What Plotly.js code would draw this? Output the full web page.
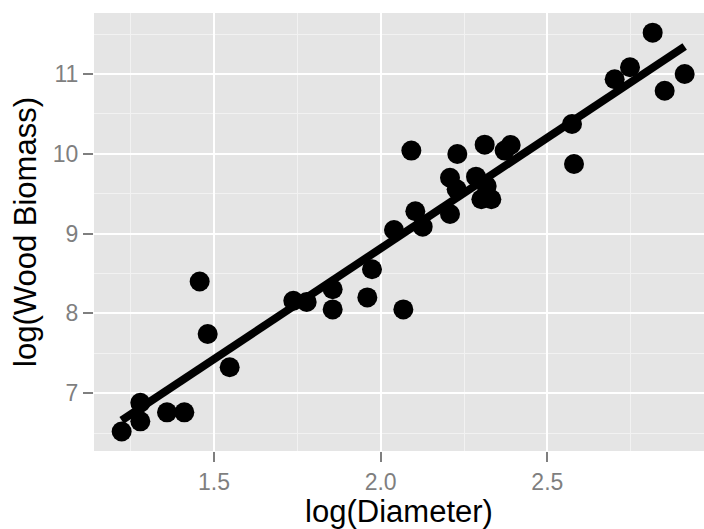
<!DOCTYPE html>
<html>
<head>
<meta charset="utf-8">
<script src="https://cdn.plot.ly/plotly-3.0.1.min.js"></script>
<style>html,body{margin:0;padding:0;background:#fff;}#chart{width:704px;height:529px;}</style>
</head>
<body>
<div id="chart"></div>
<script>
// log(Diameter) values of each tree
const logDiameter = [
  1.223, 1.279, 1.279, 1.359, 1.411, 1.457, 1.481, 1.547,
  1.738, 1.778, 1.856, 1.856, 1.960, 1.974, 2.040, 2.068,
  2.092, 2.104, 2.126, 2.208, 2.208, 2.228, 2.230, 2.286,
  2.302, 2.312, 2.318, 2.332, 2.372, 2.390, 2.574, 2.580,
  2.702, 2.748, 2.816, 2.852, 2.912
];
// log(Wood Biomass) values of each tree
const logWoodBiomass = [
  6.52, 6.648, 6.88, 6.76, 6.76, 8.40, 7.742, 7.325,
  8.159, 8.143, 8.302, 8.05, 8.20, 8.553, 9.045, 8.05,
  10.04, 9.28, 9.087, 9.246, 9.70, 9.555, 9.997, 9.713,
  9.43, 10.114, 9.596, 9.43, 10.04, 10.11, 10.373, 9.872,
  10.934, 11.084, 11.518, 10.79, 11.0
];
const xTickVals = [1.5, 2.0, 2.5];
const xTickText = ['1.5', '2.0', '2.5'];
const yTickVals = [7, 8, 9, 10, 11];
const yTickText = ['7', '8', '9', '10', '11'];

// least-squares fit (geom_smooth(method = "lm", se = FALSE))
const n = logDiameter.length;
const mx = logDiameter.reduce((a, b) => a + b, 0) / n;
const my = logWoodBiomass.reduce((a, b) => a + b, 0) / n;
let sxy = 0, sxx = 0;
for (let i = 0; i < n; i++) {
  sxy += (logDiameter[i] - mx) * (logWoodBiomass[i] - my);
  sxx += (logDiameter[i] - mx) ** 2;
}
const slope = sxy / sxx;
const intercept = my - slope * mx;
const xMin = Math.min(...logDiameter), xMax = Math.max(...logDiameter);
const fitX = [xMin, xMax];
const fitY = fitX.map(x => intercept + slope * x);

const tickFont = {family: 'Liberation Sans, Arial, sans-serif', size: 23, color: '#7F7F7F'};
const titleFont = {family: 'Liberation Sans, Arial, sans-serif', size: 31, color: '#000000'};

const data = [
  {type: 'scatter', mode: 'markers', x: logDiameter, y: logWoodBiomass,
   marker: {color: '#000000', size: 20, line: {width: 0}}, hoverinfo: 'x+y'},
  {type: 'scatter', mode: 'lines', x: fitX, y: fitY,
   line: {color: '#000000', width: 8}, hoverinfo: 'skip'}
];

const layout = {
  width: 704, height: 529,
  margin: {l: 94, r: 0, t: 13, b: 78, pad: 0},
  paper_bgcolor: '#FFFFFF', plot_bgcolor: '#E5E5E5',
  showlegend: false,
  font: {family: 'Liberation Sans, Arial, sans-serif'},
  xaxis: {
    range: [1.14, 2.97], tickvals: xTickVals, ticktext: xTickText,
    ticks: 'outside', ticklen: 10, tickwidth: 2, tickcolor: '#7F7F7F',
    tickfont: tickFont, showgrid: true, gridcolor: '#FFFFFF', gridwidth: 2,
    zeroline: false, showline: false, automargin: false,
    minor: {dtick: 0.25, tick0: 0, showgrid: true, gridcolor: '#F2F2F2', gridwidth: 1},
    title: {text: 'log(Diameter)', font: titleFont, standoff: 2}
  },
  yaxis: {
    range: [6.276, 11.764], tickvals: yTickVals, ticktext: yTickText,
    ticks: 'outside', ticklen: 10, tickwidth: 2, tickcolor: '#7F7F7F',
    tickfont: tickFont, showgrid: true, gridcolor: '#FFFFFF', gridwidth: 2,
    zeroline: false, showline: false, automargin: false,
    minor: {dtick: 0.5, tick0: 0, showgrid: true, gridcolor: '#F2F2F2', gridwidth: 1},
    title: {text: 'log(Wood Biomass)', font: titleFont, standoff: 6}
  }
};

Plotly.newPlot('chart', data, layout, {displayModeBar: false, staticPlot: true});
</script>
</body>
</html>
